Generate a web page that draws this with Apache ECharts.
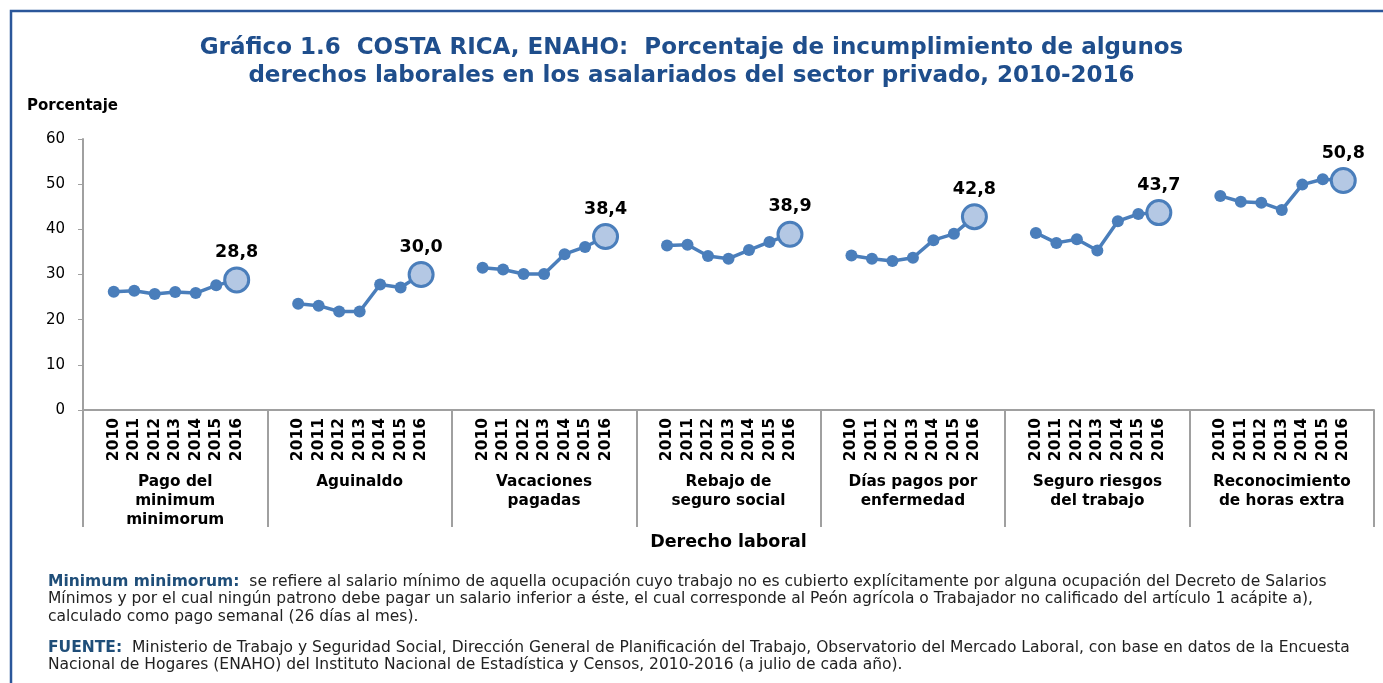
<!DOCTYPE html>
<html>
<head>
<meta charset="utf-8">
<script src="https://cdn.jsdelivr.net/npm/echarts@6/dist/echarts.min.js"></script>
<style>
  html, body { margin: 0; padding: 0; background: #fff; }
  #chart { width: 1383px; height: 683px; }
</style>
</head>
<body>
<div id="chart"></div>
<script>
// años por grupo
const years = ['2010', '2011', '2012', '2013', '2014', '2015', '2016'];
const groupNames = [
    'Pago del\nminimum\nminimorum',
    'Aguinaldo',
    'Vacaciones\npagadas',
    'Rebajo de\nseguro social',
    'Días pagos por\nenfermedad',
    'Seguro riesgos\ndel trabajo',
    'Reconocimiento\nde horas extra'
];
const pagoMinimo = [26.2, 26.4, 25.7, 26.1, 25.9, 27.6, 28.8];
const aguinaldo = [23.5, 23.1, 21.8, 21.8, 27.8, 27.1, 30.0];
const vacaciones = [31.5, 31.1, 30.1, 30.1, 34.5, 36.1, 38.4];
const seguroSocial = [36.4, 36.6, 34.1, 33.5, 35.4, 37.2, 38.9];
const diasEnfermedad = [34.2, 33.5, 33.0, 33.7, 37.6, 39.0, 42.8];
const riesgosTrabajo = [39.2, 37.0, 37.8, 35.3, 41.8, 43.4, 43.7];
const horasExtra = [47.4, 46.1, 45.9, 44.3, 49.9, 51.1, 50.8];
const yTicks = { min: 0, max: 60, interval: 10 };

const allGroups = [pagoMinimo, aguinaldo, vacaciones, seguroSocial, diasEnfermedad, riesgosTrabajo, horasExtra];

const blue = '#4a7ebb';
const navy = '#1f4e8c';

// eje con hueco a cada lado de cada grupo
const categories = [];
const lineData = [];
allGroups.forEach(function (vals) {
    categories.push('');
    lineData.push(null);
    vals.forEach(function (v, i) {
        categories.push(years[i]);
        if (i === vals.length - 1) {
            lineData.push({
                value: v,
                symbolSize: 24,
                itemStyle: { color: '#b4c8e4', borderColor: blue, borderWidth: 3 },
                label: {
                    show: true,
                    position: 'top',
                    distance: 5,
                    fontFamily: 'DejaVu Sans',
                    fontWeight: 'bold',
                    fontSize: 17.5,
                    color: '#000',
                    formatter: function (p) { return p.value.toFixed(1).replace('.', ','); }
                }
            });
        } else {
            lineData.push(v);
        }
    });
    categories.push('');
    lineData.push(null);
});

const chart = echarts.init(document.getElementById('chart'));
const option = {
    animation: false,
    backgroundColor: '#fff',
    title: {
        text: 'Gráfico 1.6  COSTA RICA, ENAHO:  Porcentaje de incumplimiento de algunos\nderechos laborales en los asalariados del sector privado, 2010-2016',
        left: 'center',
        top: 29,
        textStyle: {
            fontFamily: 'DejaVu Sans',
            fontWeight: 'bold',
            fontSize: 23,
            lineHeight: 28,
            color: navy
        }
    },
    grid: { left: 83, right: 9, top: 139, bottom: 273 },
    xAxis: [
        {
            type: 'category',
            data: categories,
            axisLine: { lineStyle: { color: '#a0a0a0', width: 2 } },
            axisTick: { show: false },
            axisLabel: {
                interval: 0,
                rotate: 90,
                margin: 8,
                fontFamily: 'DejaVu Sans',
                fontWeight: 'bold',
                fontSize: 15.5,
                color: '#000'
            }
        },
        {
            type: 'category',
            position: 'bottom',
            data: groupNames,
            axisLine: { show: false },
            axisTick: { show: true, length: 117, lineStyle: { color: '#a0a0a0', width: 2 } },
            axisLabel: {
                interval: 0,
                margin: 63,
                fontFamily: 'DejaVu Sans',
                fontWeight: 'bold',
                fontSize: 15.3,
                lineHeight: 19,
                color: '#000'
            },
            name: 'Derecho laboral',
            nameLocation: 'middle',
            nameGap: 123,
            nameTextStyle: {
                fontFamily: 'DejaVu Sans',
                fontWeight: 'bold',
                fontSize: 17.5,
                color: '#000'
            }
        }
    ],
    yAxis: {
        type: 'value',
        min: yTicks.min,
        max: yTicks.max,
        interval: yTicks.interval,
        splitLine: { show: false },
        axisLine: { show: true, lineStyle: { color: '#a0a0a0', width: 2 } },
        axisTick: { show: true, length: 5, lineStyle: { color: '#a0a0a0' } },
        axisLabel: {
            margin: 18,
            fontFamily: 'DejaVu Sans',
            fontSize: 15,
            color: '#000'
        }
    },
    series: [
        {
            type: 'line',
            data: lineData,
            connectNulls: false,
            symbol: 'circle',
            symbolSize: 12,
            lineStyle: { color: blue, width: 3.5 },
            itemStyle: { color: blue },
            z: 3
        }
    ],
    graphic: [
        {
            type: 'polyline',
            shape: { points: [[11, 690], [11, 11], [1390, 11]] },
            style: { stroke: '#2b579a', lineWidth: 2.5, fill: null }
        },
        {
            type: 'text',
            left: 27,
            top: 99,
            style: {
                text: 'Porcentaje',
                font: 'bold 15px "DejaVu Sans"',
                fill: '#000'
            }
        },
        {
            type: 'text',
            left: 48,
            top: 573,
            style: {
                text: '{b|Minimum minimorum:}  se refiere al salario mínimo de aquella ocupación cuyo trabajo no es cubierto explícitamente por alguna ocupación del Decreto de Salarios\nMínimos y por el cual ningún patrono debe pagar un salario inferior a éste, el cual corresponde al Peón agrícola o Trabajador no calificado del artículo 1 acápite a),\ncalculado como pago semanal (26 días al mes).',
                font: '15.5px "DejaVu Sans"',
                lineHeight: 17.5,
                fill: '#222',
                rich: {
                    b: { fontWeight: 'bold', fill: '#1f4e79', fontSize: 15.5, fontFamily: 'DejaVu Sans', lineHeight: 17.5 }
                }
            }
        },
        {
            type: 'text',
            left: 48,
            top: 639,
            style: {
                text: '{b|FUENTE:}  Ministerio de Trabajo y Seguridad Social, Dirección General de Planificación del Trabajo, Observatorio del Mercado Laboral, con base en datos de la Encuesta\nNacional de Hogares (ENAHO) del Instituto Nacional de Estadística y Censos, 2010-2016 (a julio de cada año).',
                font: '15.5px "DejaVu Sans"',
                lineHeight: 17.5,
                fill: '#222',
                rich: {
                    b: { fontWeight: 'bold', fill: '#1f4e79', fontSize: 15.5, fontFamily: 'DejaVu Sans', lineHeight: 17.5 }
                }
            }
        }
    ]
};
chart.setOption(option);
</script>
</body>
</html>
